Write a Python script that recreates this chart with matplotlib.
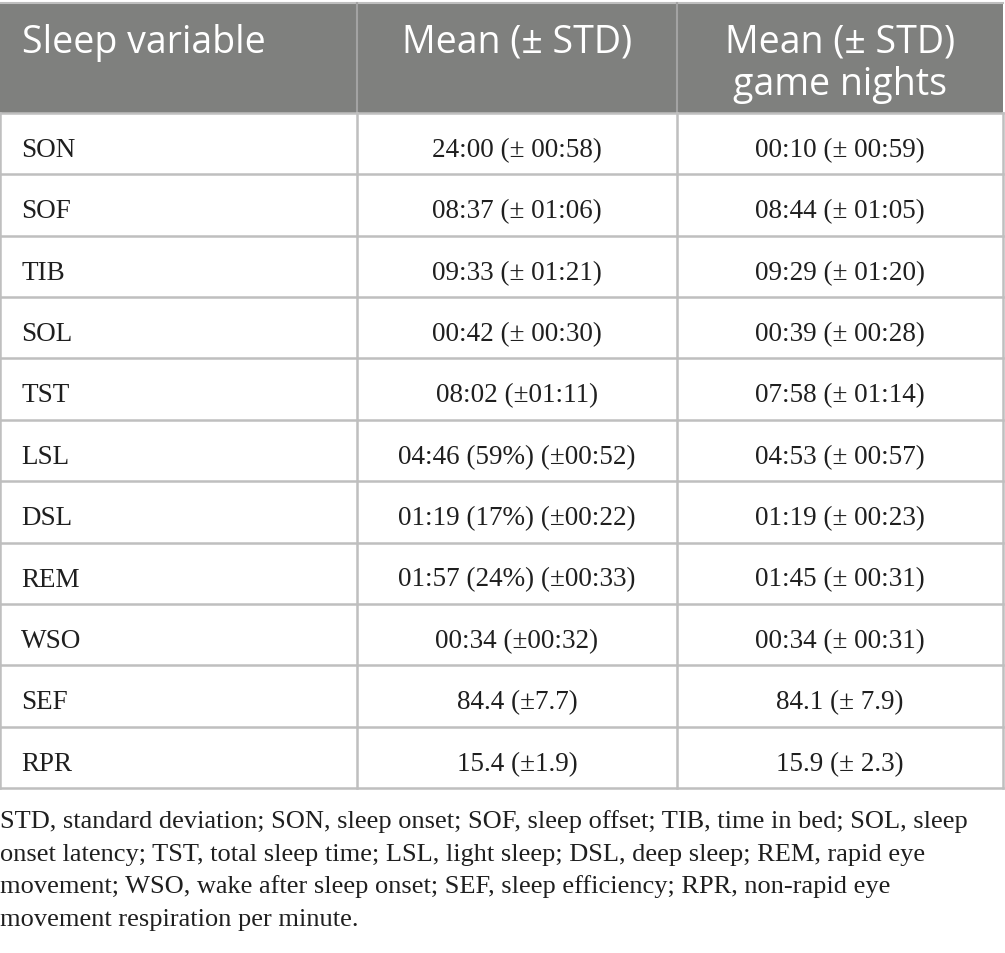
import matplotlib.pyplot as plt
from matplotlib.patches import Rectangle

# Table content
header_left = 'Sleep variable'
header_mid = 'Mean (± STD)'
header_right = ['Mean (± STD)', 'game nights']

variables = ['SON', 'SOF', 'TIB', 'SOL', 'TST', 'LSL', 'DSL', 'REM', 'WSO', 'SEF', 'RPR']
mean_all = ['24:00 (± 00:58)', '08:37 (± 01:06)', '09:33 (± 01:21)', '00:42 (± 00:30)',
            '08:02 (±01:11)', '04:46 (59%) (±00:52)', '01:19 (17%) (±00:22)',
            '01:57 (24%) (±00:33)', '00:34 (±00:32)', '84.4 (±7.7)', '15.4 (±1.9)']
mean_game = ['00:10 (± 00:59)', '08:44 (± 01:05)', '09:29 (± 01:20)', '00:39 (± 00:28)',
             '07:58 (± 01:14)', '04:53 (± 00:57)', '01:19 (± 00:23)', '01:45 (± 00:31)',
             '00:34 (± 00:31)', '84.1 (± 7.9)', '15.9 (± 2.3)']

footnote = ['STD, standard deviation; SON, sleep onset; SOF, sleep offset; TIB, time in bed; SOL, sleep',
            'onset latency; TST, total sleep time; LSL, light sleep; DSL, deep sleep; REM, rapid eye',
            'movement; WSO, wake after sleep onset; SEF, sleep efficiency; RPR, non-rapid eye',
            'movement respiration per minute.']

# Layout (pixels)
W, H = 1005, 954
col_edges = [0, 357, 677, 1003]
top, header_bottom, table_bottom = 4, 114, 789
row_h = (table_bottom - header_bottom) / len(variables)

header_color = '#7f807e'
line_color = '#bfbfbf'
text_color = '#1f1f1f'
sans = 'Open Sans'
serif = 'Liberation Serif'

fig = plt.figure(figsize=(W / 100, H / 100), dpi=100)
ax = fig.add_axes([0, 0, 1, 1])
ax.set_xlim(0, W)
ax.set_ylim(H, 0)
ax.axis('off')

# header band
ax.add_patch(Rectangle((col_edges[0], top), col_edges[-1] - col_edges[0], header_bottom - top,
                       facecolor=header_color, edgecolor='none'))
ax.plot([col_edges[0], col_edges[-1]], [top, top], color=line_color, lw=1.5)
for x in col_edges[1:-1]:
    ax.plot([x, x], [top, header_bottom], color='#a3a3a3', lw=1.5)

hy1, hy2 = 53, 95
ax.text(22, hy1, header_left, color='white', fontsize=27, family=sans, va='baseline', ha='left')
ax.text((col_edges[1] + col_edges[2]) / 2, hy1, header_mid, color='white', fontsize=27,
        family=sans, va='baseline', ha='center')
for y, t in zip([hy1, hy2], header_right):
    ax.text((col_edges[2] + col_edges[3]) / 2, y, t, color='white', fontsize=27,
            family=sans, va='baseline', ha='center')

# grid lines of body
for i in range(len(variables) + 1):
    y = header_bottom + i * row_h
    ax.plot([col_edges[0], col_edges[-1]], [y, y], color=line_color, lw=1.8)
for x in col_edges:
    ax.plot([x, x], [header_bottom, table_bottom], color=line_color, lw=1.8)

# body text
for i, (v, a, g) in enumerate(zip(variables, mean_all, mean_game)):
    y = header_bottom + i * row_h + 43
    ax.text(21, y, v, color=text_color, fontsize=19.5, family=serif, va='baseline', ha='left')
    ax.text((col_edges[1] + col_edges[2]) / 2, y, a, color=text_color, fontsize=19.5,
            family=serif, va='baseline', ha='center')
    ax.text((col_edges[2] + col_edges[3]) / 2, y, g, color=text_color, fontsize=19.5,
            family=serif, va='baseline', ha='center')

# footnote
for k, line in enumerate(footnote):
    ax.text(0, 828 + k * 32.7, line, color=text_color, fontsize=19, family=serif,
            va='baseline', ha='left')

fig.savefig('out.png', dpi=100)
